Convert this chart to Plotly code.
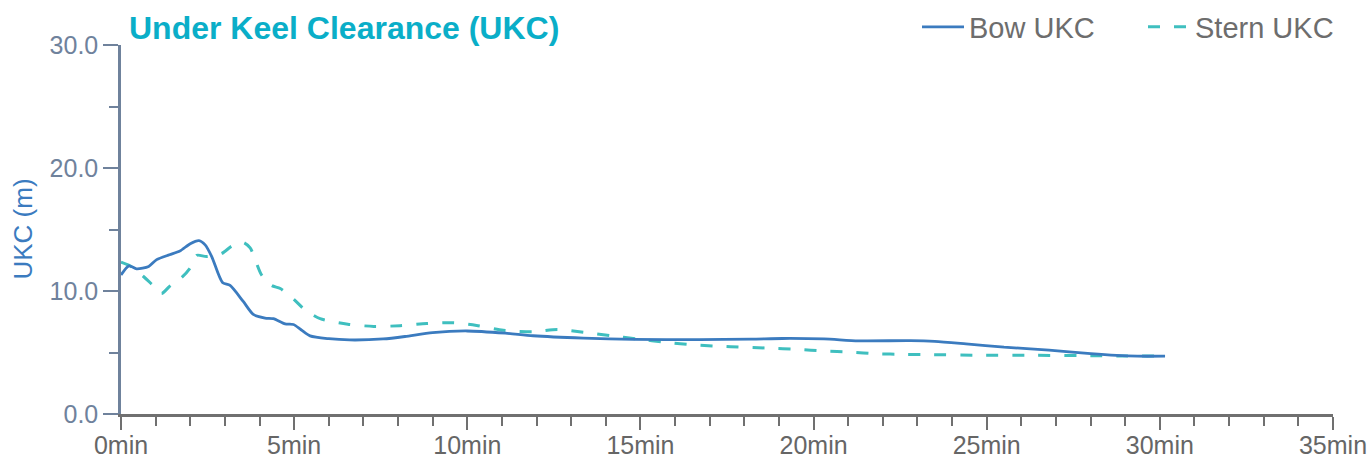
import plotly.graph_objects as go

# Bow UKC (time in minutes, clearance in m)
bow_time = [0.0, 0.23, 0.45, 0.8, 1.03, 1.4, 1.7, 2.0, 2.25, 2.43, 2.62, 2.93, 3.15, 3.53,
            3.82, 4.16, 4.4, 4.74, 4.98, 5.2, 5.46, 6.0, 6.6, 7.57, 8.2, 9.0, 10.0, 11.1,
            11.9, 13.35, 14.8, 16.7, 18.2, 19.1, 20.3, 21.3, 22.8, 23.5, 24.4, 25.5, 26.8,
            28.0, 28.75, 29.35, 30.15]
bow_ukc = [11.3, 12.05, 11.8, 12.0, 12.55, 12.95, 13.25, 13.85, 14.1, 13.75, 12.8, 10.7, 10.45,
           9.15, 8.1, 7.8, 7.75, 7.32, 7.28, 6.85, 6.35, 6.12, 6.02, 6.1, 6.3, 6.62, 6.75, 6.57,
           6.36, 6.17, 6.07, 6.05, 6.08, 6.14, 6.1, 5.95, 5.96, 5.9, 5.7, 5.43, 5.2, 4.9, 4.76,
           4.7, 4.7]

# Stern UKC
stern_time = [0.0, 0.26, 0.64, 0.89, 1.17, 1.41, 1.75, 1.99, 2.19, 2.47, 2.91, 3.2, 3.53, 3.73,
              4.06, 4.35, 4.6, 5.0, 5.3, 5.75, 6.55, 7.3, 8.06, 8.83, 9.6, 10.27, 11.04, 11.9,
              12.6, 13.35, 14.12, 14.9, 15.76, 16.53, 17.6, 18.7, 19.55, 20.3, 21.05, 21.82,
              22.6, 23.4, 24.9, 26.4, 28.0, 29.0, 30.15]
stern_ukc = [12.35, 12.05, 11.2, 10.55, 9.8, 10.4, 11.1, 11.85, 12.9, 12.8, 13.05, 13.65, 13.95,
             13.5, 11.3, 10.45, 10.2, 9.3, 8.5, 7.75, 7.3, 7.12, 7.18, 7.36, 7.42, 7.2, 6.8, 6.68,
             6.87, 6.65, 6.37, 6.1, 5.82, 5.62, 5.47, 5.36, 5.26, 5.12, 5.04, 4.9, 4.85, 4.83,
             4.77, 4.77, 4.74, 4.72, 4.7]

x_ticks = [0, 5, 10, 15, 20, 25, 30, 35]
y_ticks = [0, 10, 20, 30]

FONT = "Liberation Sans, Arial, Helvetica, sans-serif"
BOW_COLOR = "#3b7bbf"
STERN_COLOR = "#3fbfbf"
YAXIS_COLOR = "#6f829c"
XAXIS_COLOR = "#707070"

W, H = 1371, 459

fig = go.Figure()
fig.add_trace(go.Scatter(
    x=stern_time, y=stern_ukc, name="Stern UKC", mode="lines",
    line=dict(color=STERN_COLOR, width=3, dash="12px,14px", shape="spline", smoothing=0.7),
    legendrank=2,
))
fig.add_trace(go.Scatter(
    x=bow_time, y=bow_ukc, name="Bow UKC", mode="lines",
    line=dict(color=BOW_COLOR, width=2.8, shape="spline", smoothing=0.7),
    legendrank=1,
))

fig.update_layout(
    width=W, height=H,
    margin=dict(l=121, r=38, t=45, b=45, autoexpand=False),
    paper_bgcolor="white", plot_bgcolor="white",
    font=dict(family=FONT),
    showlegend=True,
    legend=dict(
        orientation="h", xref="container", x=917 / W, xanchor="left",
        yref="container", y=1 - 27 / H, yanchor="middle",
        font=dict(size=29, color="#6d6d6d", family=FONT),
        bgcolor="rgba(0,0,0,0)", itemwidth=42, traceorder="normal",
        entrywidth=169, entrywidthmode="pixels",
    ),
    xaxis=dict(
        range=[0, 35], tickmode="array", tickvals=x_ticks,
        ticktext=[f"{v}min" for v in x_ticks], automargin=False,
        showgrid=False, zeroline=False,
        showline=True, linecolor=XAXIS_COLOR, linewidth=2.5,
        ticks="outside", ticklen=13, tickwidth=2, tickcolor=XAXIS_COLOR,
        ticklabelstandoff=-6,
        tickfont=dict(size=25, color="#666666", family=FONT),
        minor=dict(dtick=1, ticks="outside", ticklen=9, tickwidth=2, tickcolor=XAXIS_COLOR,
                   showgrid=False),
    ),
    yaxis=dict(
        range=[0, 30], tickmode="array", tickvals=y_ticks, tickformat=".1f",
        automargin=False,
        showgrid=False, zeroline=False,
        showline=True, linecolor=YAXIS_COLOR, linewidth=2.5,
        ticks="outside", ticklen=15, tickwidth=2, tickcolor=YAXIS_COLOR,
        tickfont=dict(size=25, color=YAXIS_COLOR, family=FONT),
        minor=dict(dtick=5, ticks="outside", ticklen=9, tickwidth=2, tickcolor=YAXIS_COLOR,
                   showgrid=False),
    ),
    annotations=[
        dict(text="<b>Under Keel Clearance (UKC)</b>", xref="paper", yref="paper",
             x=0.0, xshift=6, y=1.0, yshift=17, xanchor="left", yanchor="middle",
             showarrow=False, font=dict(size=32, color="#0aaec8", family=FONT)),
        dict(text="UKC (m)", xref="paper", yref="paper", x=0, xshift=-99, y=0.5,
             xanchor="center", yanchor="middle", textangle=-90, showarrow=False,
             font=dict(size=26, color=BOW_COLOR, family=FONT)),
    ],
)

# remove the default page margin so the figure fills the window exactly
fig.write_html(
    "out.html",
    config={"displayModeBar": False},
    post_script="document.body.style.margin='0';document.body.style.overflow='hidden';",
)
